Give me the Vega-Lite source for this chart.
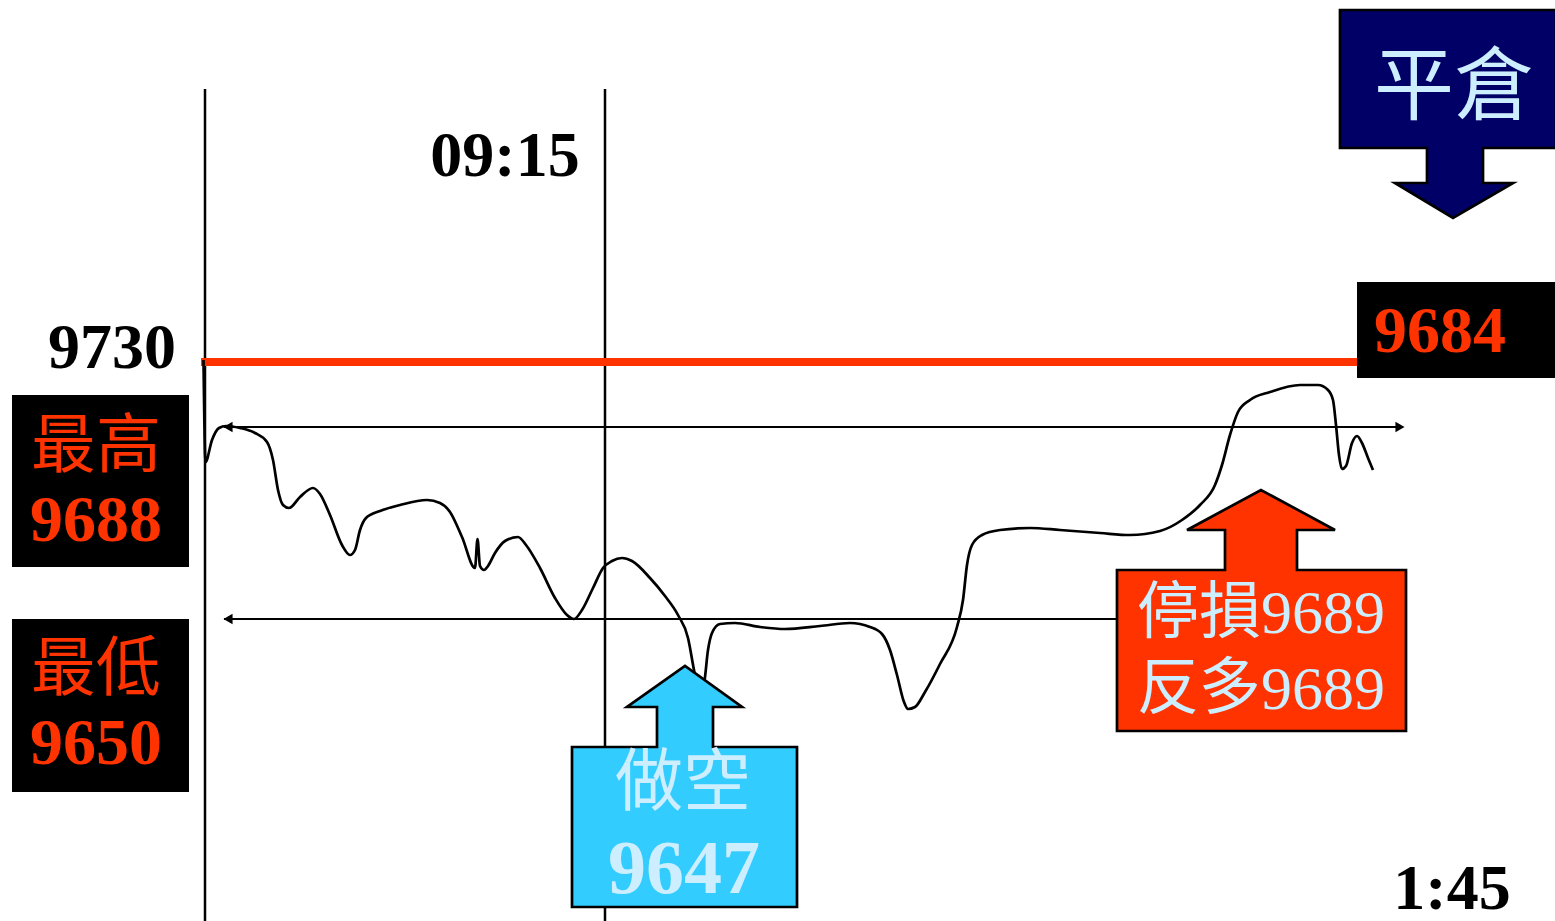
{
  "$schema": "https://vega.github.io/schema/vega-lite/v6.json",
  "width": 1555,
  "height": 921,
  "autosize": {"type": "none"},
  "padding": 0,
  "background": "white",
  "config": {"view": {"stroke": null}},
  "datasets": {
    "vlines": [{"x": 205, "y1": 89, "y2": 921}, {"x": 605, "y1": 89, "y2": 921}],
    "redline": [{"x1": 201, "x2": 1357, "y": 362}],
    "arrows": [{"x1": 224, "x2": 1403, "y": 427}, {"x1": 224, "x2": 1117, "y": 619}],
    "heads": [
      {"x": 228, "y": 427, "dir": "left"},
      {"x": 1400, "y": 427, "dir": "right"},
      {"x": 228, "y": 619, "dir": "left"}
    ],
    "boxes": [
      {"x1": 12, "x2": 189, "y1": 395, "y2": 567},
      {"x1": 12, "x2": 189, "y1": 619, "y2": 792},
      {"x1": 1357, "x2": 1555, "y1": 282, "y2": 378}
    ],
    "price": [
      {"x": 203.5, "y": 360}, {"x": 205.5, "y": 462}, {"x": 212, "y": 440}, {"x": 219, "y": 428},
      {"x": 226, "y": 426}, {"x": 240, "y": 428}, {"x": 255, "y": 433}, {"x": 267, "y": 442},
      {"x": 273, "y": 460}, {"x": 278, "y": 490}, {"x": 283, "y": 505}, {"x": 289, "y": 508},
      {"x": 300, "y": 497}, {"x": 313, "y": 488}, {"x": 320, "y": 494}, {"x": 330, "y": 515},
      {"x": 342, "y": 545}, {"x": 350, "y": 555}, {"x": 355, "y": 550}, {"x": 360, "y": 530},
      {"x": 366, "y": 518}, {"x": 380, "y": 511}, {"x": 400, "y": 505}, {"x": 427, "y": 500},
      {"x": 440, "y": 503}, {"x": 450, "y": 512}, {"x": 462, "y": 537}, {"x": 475, "y": 568},
      {"x": 477.5, "y": 539}, {"x": 480, "y": 566}, {"x": 484, "y": 570}, {"x": 488, "y": 566},
      {"x": 495, "y": 553}, {"x": 505, "y": 541}, {"x": 518, "y": 537}, {"x": 526, "y": 545},
      {"x": 540, "y": 568}, {"x": 555, "y": 598}, {"x": 567, "y": 615}, {"x": 574, "y": 619},
      {"x": 582, "y": 610}, {"x": 593, "y": 588}, {"x": 603, "y": 568}, {"x": 612, "y": 561},
      {"x": 622, "y": 558}, {"x": 632, "y": 561}, {"x": 650, "y": 578}, {"x": 665, "y": 596},
      {"x": 678, "y": 615}, {"x": 688, "y": 638}, {"x": 694, "y": 670}, {"x": 699, "y": 695},
      {"x": 704, "y": 684}, {"x": 708, "y": 650}, {"x": 712, "y": 633}, {"x": 720, "y": 624},
      {"x": 735, "y": 623}, {"x": 760, "y": 627}, {"x": 785, "y": 629}, {"x": 820, "y": 626},
      {"x": 850, "y": 623}, {"x": 870, "y": 627}, {"x": 882, "y": 634}, {"x": 890, "y": 650},
      {"x": 897, "y": 675}, {"x": 904, "y": 702}, {"x": 908, "y": 709}, {"x": 915, "y": 707},
      {"x": 925, "y": 692}, {"x": 940, "y": 664}, {"x": 957, "y": 627}, {"x": 963, "y": 600},
      {"x": 967, "y": 565}, {"x": 972, "y": 545}, {"x": 982, "y": 535}, {"x": 1000, "y": 530},
      {"x": 1030, "y": 528}, {"x": 1060, "y": 530}, {"x": 1100, "y": 533}, {"x": 1130, "y": 535},
      {"x": 1160, "y": 531}, {"x": 1182, "y": 520}, {"x": 1200, "y": 505}, {"x": 1215, "y": 485},
      {"x": 1222, "y": 465}, {"x": 1230, "y": 435}, {"x": 1238, "y": 412}, {"x": 1250, "y": 400},
      {"x": 1270, "y": 392}, {"x": 1300, "y": 385}, {"x": 1318, "y": 385}, {"x": 1328, "y": 390},
      {"x": 1333, "y": 400}, {"x": 1336, "y": 425}, {"x": 1339, "y": 455}, {"x": 1342, "y": 469},
      {"x": 1346, "y": 466}, {"x": 1352, "y": 443}, {"x": 1357, "y": 436}, {"x": 1362, "y": 443},
      {"x": 1368, "y": 458}, {"x": 1373, "y": 470}
    ],
    "callouts": [
      {"id": "short", "o": 1, "x": 572, "y": 907}, {"id": "short", "o": 2, "x": 572, "y": 747},
      {"id": "short", "o": 3, "x": 657, "y": 747}, {"id": "short", "o": 4, "x": 657, "y": 707},
      {"id": "short", "o": 5, "x": 627, "y": 707}, {"id": "short", "o": 6, "x": 685, "y": 666},
      {"id": "short", "o": 7, "x": 742, "y": 707}, {"id": "short", "o": 8, "x": 713, "y": 707},
      {"id": "short", "o": 9, "x": 713, "y": 747}, {"id": "short", "o": 10, "x": 797, "y": 747},
      {"id": "short", "o": 11, "x": 797, "y": 907},
      {"id": "stop", "o": 1, "x": 1117, "y": 731}, {"id": "stop", "o": 2, "x": 1117, "y": 570},
      {"id": "stop", "o": 3, "x": 1225, "y": 570}, {"id": "stop", "o": 4, "x": 1225, "y": 530},
      {"id": "stop", "o": 5, "x": 1187, "y": 530}, {"id": "stop", "o": 6, "x": 1261, "y": 490},
      {"id": "stop", "o": 7, "x": 1335, "y": 530}, {"id": "stop", "o": 8, "x": 1297, "y": 530},
      {"id": "stop", "o": 9, "x": 1297, "y": 570}, {"id": "stop", "o": 10, "x": 1406, "y": 570},
      {"id": "stop", "o": 11, "x": 1406, "y": 731},
      {"id": "close", "o": 1, "x": 1340, "y": 10}, {"id": "close", "o": 2, "x": 1556, "y": 10},
      {"id": "close", "o": 3, "x": 1556, "y": 148}, {"id": "close", "o": 4, "x": 1483, "y": 148},
      {"id": "close", "o": 5, "x": 1483, "y": 183}, {"id": "close", "o": 6, "x": 1513, "y": 183},
      {"id": "close", "o": 7, "x": 1453, "y": 218}, {"id": "close", "o": 8, "x": 1395, "y": 183},
      {"id": "close", "o": 9, "x": 1427, "y": 183}, {"id": "close", "o": 10, "x": 1427, "y": 148},
      {"id": "close", "o": 11, "x": 1340, "y": 148}
    ],
    "labels": [
      {"kind": "axisnum", "x": 112, "y": 349, "text": "9730"},
      {"kind": "axisnum", "x": 505, "y": 157, "text": "09:15"},
      {"kind": "axisnum", "x": 1452, "y": 890, "text": "1:45"},
      {"kind": "boxcjk", "x": 96, "y": 447, "text": "最高"},
      {"kind": "boxcjk", "x": 96, "y": 670, "text": "最低"},
      {"kind": "boxnum", "x": 96, "y": 521, "text": "9688"},
      {"kind": "boxnum", "x": 96, "y": 744, "text": "9650"},
      {"kind": "boxnum", "x": 1440, "y": 332, "text": "9684"},
      {"kind": "bluecjk", "x": 683, "y": 785, "text": "做空"},
      {"kind": "bluenum", "x": 684, "y": 870, "text": "9647"},
      {"kind": "redmixed", "x": 1261, "y": 614, "text": "停損9689"},
      {"kind": "redmixed", "x": 1261, "y": 690, "text": "反多9689"},
      {"kind": "navycjk", "x": 1454, "y": 89, "text": "平倉"}
    ]
  },
  "layer": [
    {
      "data": {"name": "boxes"},
      "mark": {"type": "rect", "color": "black"},
      "encoding": {
        "x": {"field": "x1", "type": "quantitative", "scale": {"domain": [0, 1555], "nice": false, "zero": false}, "axis": null},
        "x2": {"field": "x2"},
        "y": {"field": "y1", "type": "quantitative", "scale": {"domain": [0, 921], "nice": false, "zero": false, "reverse": true}, "axis": null},
        "y2": {"field": "y2"}
      }
    },
    {
      "data": {"name": "vlines"},
      "mark": {"type": "rule", "color": "black", "strokeWidth": 2.5},
      "encoding": {
        "x": {"field": "x", "type": "quantitative"},
        "y": {"field": "y1", "type": "quantitative"},
        "y2": {"field": "y2"}
      }
    },
    {
      "data": {"name": "redline"},
      "mark": {"type": "rule", "color": "#FF3300", "strokeWidth": 8},
      "encoding": {
        "x": {"field": "x1", "type": "quantitative"},
        "x2": {"field": "x2"},
        "y": {"field": "y", "type": "quantitative"}
      }
    },
    {
      "data": {"name": "arrows"},
      "mark": {"type": "rule", "color": "black", "strokeWidth": 2.2},
      "encoding": {
        "x": {"field": "x1", "type": "quantitative"},
        "x2": {"field": "x2"},
        "y": {"field": "y", "type": "quantitative"}
      }
    },
    {
      "data": {"name": "heads"},
      "transform": [{"filter": "datum.dir === 'left'"}],
      "mark": {"type": "point", "shape": "triangle-left", "filled": true, "color": "black", "size": 110, "opacity": 1},
      "encoding": {
        "x": {"field": "x", "type": "quantitative"},
        "y": {"field": "y", "type": "quantitative"}
      }
    },
    {
      "data": {"name": "heads"},
      "transform": [{"filter": "datum.dir === 'right'"}],
      "mark": {"type": "point", "shape": "triangle-right", "filled": true, "color": "black", "size": 110, "opacity": 1},
      "encoding": {
        "x": {"field": "x", "type": "quantitative"},
        "y": {"field": "y", "type": "quantitative"}
      }
    },
    {
      "data": {"name": "price"},
      "mark": {"type": "line", "color": "black", "strokeWidth": 2.7, "interpolate": "monotone"},
      "encoding": {
        "x": {"field": "x", "type": "quantitative"},
        "y": {"field": "y", "type": "quantitative"}
      }
    },
    {
      "data": {"name": "callouts"},
      "transform": [{"filter": "datum.id === 'short'"}],
      "mark": {"type": "line", "interpolate": "linear-closed", "fill": "#33CCFF", "stroke": "black", "strokeWidth": 2.7},
      "encoding": {
        "x": {"field": "x", "type": "quantitative"},
        "y": {"field": "y", "type": "quantitative"},
        "order": {"field": "o", "type": "quantitative"}
      }
    },
    {
      "data": {"name": "callouts"},
      "transform": [{"filter": "datum.id === 'stop'"}],
      "mark": {"type": "line", "interpolate": "linear-closed", "fill": "#FF3300", "stroke": "black", "strokeWidth": 2.7},
      "encoding": {
        "x": {"field": "x", "type": "quantitative"},
        "y": {"field": "y", "type": "quantitative"},
        "order": {"field": "o", "type": "quantitative"}
      }
    },
    {
      "data": {"name": "callouts"},
      "transform": [{"filter": "datum.id === 'close'"}],
      "mark": {"type": "line", "interpolate": "linear-closed", "fill": "#000066", "stroke": "black", "strokeWidth": 2.7},
      "encoding": {
        "x": {"field": "x", "type": "quantitative"},
        "y": {"field": "y", "type": "quantitative"},
        "order": {"field": "o", "type": "quantitative"}
      }
    },
    {
      "data": {"name": "labels"},
      "transform": [{"filter": "datum.kind === 'axisnum'"}],
      "mark": {"type": "text", "font": "Liberation Serif", "fontWeight": "bold", "fontSize": 64, "color": "black", "align": "center", "baseline": "middle"},
      "encoding": {
        "x": {"field": "x", "type": "quantitative"},
        "y": {"field": "y", "type": "quantitative"},
        "text": {"field": "text"}
      }
    },
    {
      "data": {"name": "labels"},
      "transform": [{"filter": "datum.kind === 'boxcjk'"}],
      "mark": {"type": "text", "font": "Noto Sans CJK TC", "fontSize": 65, "color": "#FF3300", "align": "center", "baseline": "middle"},
      "encoding": {
        "x": {"field": "x", "type": "quantitative"},
        "y": {"field": "y", "type": "quantitative"},
        "text": {"field": "text"}
      }
    },
    {
      "data": {"name": "labels"},
      "transform": [{"filter": "datum.kind === 'boxnum'"}],
      "mark": {"type": "text", "font": "Liberation Serif", "fontWeight": "bold", "fontSize": 66, "color": "#FF3300", "align": "center", "baseline": "middle"},
      "encoding": {
        "x": {"field": "x", "type": "quantitative"},
        "y": {"field": "y", "type": "quantitative"},
        "text": {"field": "text"}
      }
    },
    {
      "data": {"name": "labels"},
      "transform": [{"filter": "datum.kind === 'bluecjk'"}],
      "mark": {"type": "text", "font": "Noto Sans CJK TC", "fontSize": 68, "color": "#CCEEFF", "align": "center", "baseline": "middle"},
      "encoding": {
        "x": {"field": "x", "type": "quantitative"},
        "y": {"field": "y", "type": "quantitative"},
        "text": {"field": "text"}
      }
    },
    {
      "data": {"name": "labels"},
      "transform": [{"filter": "datum.kind === 'bluenum'"}],
      "mark": {"type": "text", "font": "Liberation Serif", "fontWeight": "bold", "fontSize": 76, "color": "#CCEEFF", "align": "center", "baseline": "middle"},
      "encoding": {
        "x": {"field": "x", "type": "quantitative"},
        "y": {"field": "y", "type": "quantitative"},
        "text": {"field": "text"}
      }
    },
    {
      "data": {"name": "labels"},
      "transform": [{"filter": "datum.kind === 'redmixed'"}],
      "mark": {"type": "text", "font": "Liberation Serif, Noto Sans CJK TC", "fontSize": 62, "color": "#CCEEFF", "align": "center", "baseline": "middle"},
      "encoding": {
        "x": {"field": "x", "type": "quantitative"},
        "y": {"field": "y", "type": "quantitative"},
        "text": {"field": "text"}
      }
    },
    {
      "data": {"name": "labels"},
      "transform": [{"filter": "datum.kind === 'navycjk'"}],
      "mark": {"type": "text", "font": "Noto Sans CJK TC", "fontSize": 80, "color": "#CCEEFF", "align": "center", "baseline": "middle"},
      "encoding": {
        "x": {"field": "x", "type": "quantitative"},
        "y": {"field": "y", "type": "quantitative"},
        "text": {"field": "text"}
      }
    }
  ]
}
